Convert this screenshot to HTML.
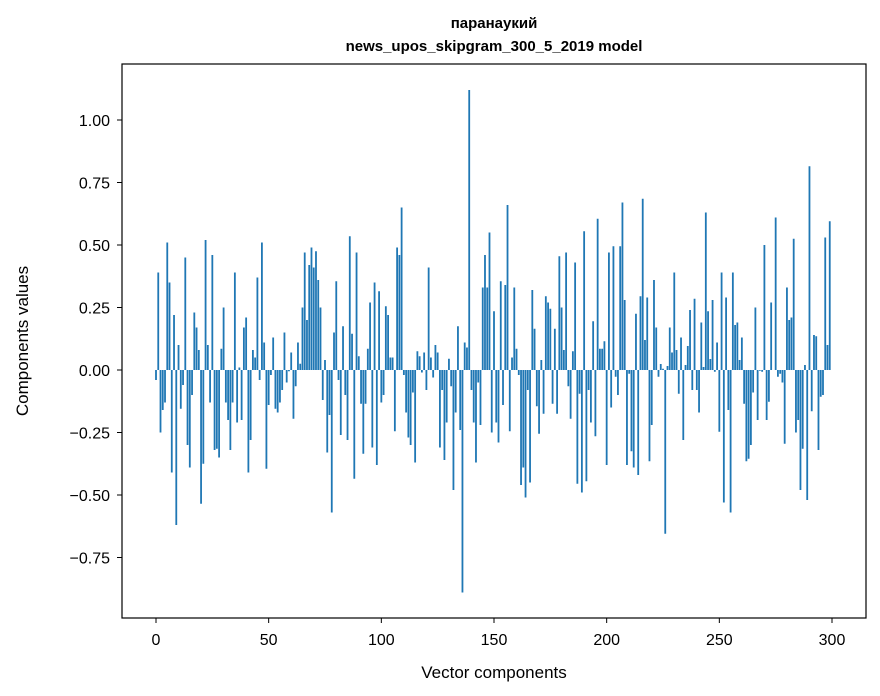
<!DOCTYPE html>
<html><head><meta charset="utf-8"><style>body{margin:0;background:#fff}svg{display:block;font-family:"Liberation Sans","DejaVu Sans",sans-serif}</style></head>
<body>
<svg id="chart" width="880" height="696">
<text x="494" y="28" text-anchor="middle" font-size="15" font-weight="bold">паранаукий</text>
<text x="494" y="51" text-anchor="middle" font-size="15" font-weight="bold">news_upos_skipgram_300_5_2019 model</text>
<g id="bars"></g>
<g id="axes"></g>
<rect x="122" y="64" width="744" height="554" fill="none" stroke="#000" stroke-width="1.2"/>
<text x="494" y="678" text-anchor="middle" font-size="17">Vector components</text>
<text transform="translate(28,341) rotate(-90)" text-anchor="middle" font-size="17">Components values</text>
</svg>
<script>
const values = [
-0.04,0.39,-0.25,-0.16,-0.13,0.51,0.35,-0.41,0.22,-0.62,
0.10,-0.155,-0.06,0.45,-0.30,-0.39,-0.10,0.23,0.17,0.08,
-0.535,-0.375,0.52,0.10,-0.13,0.46,-0.32,-0.315,-0.35,0.085,
0.25,-0.13,-0.20,-0.32,-0.13,0.39,-0.21,0.01,-0.20,0.17,
0.21,-0.41,-0.28,0.08,0.05,0.37,-0.04,0.51,0.11,-0.395,
-0.14,-0.02,0.13,-0.155,-0.17,-0.13,-0.08,0.15,-0.05,-0.005,
0.07,-0.195,-0.065,0.11,0.025,0.25,0.47,0.20,0.42,0.49,
0.41,0.475,0.36,0.25,-0.12,0.04,-0.33,-0.18,-0.57,0.15,
0.355,-0.04,-0.26,0.175,-0.10,-0.28,0.535,0.145,-0.435,0.47,
0.055,-0.135,-0.335,-0.135,0.085,0.27,-0.31,0.35,-0.38,0.315,
-0.13,-0.10,0.255,0.22,0.05,0.05,-0.245,0.49,0.46,0.65,
-0.02,-0.17,-0.27,-0.30,-0.09,-0.37,0.075,0.055,-0.01,0.07,
-0.08,0.41,0.05,-0.03,0.10,0.07,-0.31,-0.08,-0.36,-0.21,
0.045,-0.065,-0.48,-0.17,0.175,-0.24,-0.89,0.11,0.09,1.12,
-0.08,-0.21,-0.37,-0.05,-0.22,0.33,0.46,0.33,0.55,-0.25,
0.235,-0.21,-0.29,0.355,-0.14,0.34,0.66,-0.245,0.05,0.33,
0.085,-0.02,-0.46,-0.39,-0.51,-0.08,-0.45,0.32,0.165,-0.145,
-0.255,0.04,-0.175,0.295,0.27,0.245,-0.135,0.165,-0.175,0.455,
0.25,0.08,0.47,-0.065,-0.195,0.075,0.43,-0.455,-0.095,-0.49,
0.555,-0.445,-0.08,-0.21,0.195,-0.265,0.605,0.085,0.085,0.115,
-0.38,0.47,-0.15,0.495,-0.027,-0.10,0.495,0.67,0.28,-0.38,
-0.015,-0.325,-0.39,0.225,-0.42,0.295,0.685,0.12,0.29,-0.365,
-0.22,0.36,0.17,-0.027,0.024,0.005,-0.655,0.016,0.17,0.07,
0.39,0.08,-0.095,0.13,-0.28,0.02,0.096,0.24,-0.08,0.285,
-0.08,-0.17,0.19,0.012,0.63,0.235,0.044,0.28,-0.007,0.11,
-0.247,0.39,-0.53,0.29,-0.16,-0.57,0.39,0.18,0.19,0.04,
0.13,-0.135,-0.365,-0.355,-0.30,-0.09,0.25,-0.20,-0.003,-0.007,
0.50,-0.20,-0.127,0.27,0,0.61,-0.027,-0.015,-0.05,-0.295,
0.33,0.20,0.21,0.525,-0.25,-0.20,-0.48,-0.315,0.02,-0.52,
0.815,-0.165,0.14,0.135,-0.32,-0.107,-0.10,0.53,0.10,0.595
];
const xTicks = [0,50,100,150,200,250,300];
const yTicks = [-0.75,-0.5,-0.25,0,0.25,0.5,0.75,1.0];
const yTickLabels = ["\u22120.75","\u22120.50","\u22120.25","0.00","0.25","0.50","0.75","1.00"];
const NS="http://www.w3.org/2000/svg";
function xs(v){return 156+v*(676/300);}
function ys(v){return 370-v*250;}
const bars=document.getElementById('bars');
values.forEach((v,i)=>{
  const r=document.createElementNS(NS,'rect');
  const bw=0.8*(676/300);
  r.setAttribute('x',xs(i)-bw/2);
  r.setAttribute('y',Math.min(ys(v),ys(0)));
  r.setAttribute('width',bw);
  r.setAttribute('height',Math.abs(ys(v)-ys(0)));
  r.setAttribute('fill','#1f77b4');
  
  
  bars.appendChild(r);
});
const axes=document.getElementById('axes');
xTicks.forEach(t=>{
  const l=document.createElementNS(NS,'line');
  l.setAttribute('x1',xs(t));l.setAttribute('x2',xs(t));
  l.setAttribute('y1',618);l.setAttribute('y2',623);l.setAttribute('stroke','#000');
  
  
  axes.appendChild(l);
  const tx=document.createElementNS(NS,'text');
  tx.setAttribute('x',xs(t));tx.setAttribute('y',645);
  tx.setAttribute('text-anchor','middle');tx.setAttribute('font-size','16');
  tx.textContent=t;
  
  
  axes.appendChild(tx);
});
yTicks.forEach((t,i)=>{
  const l=document.createElementNS(NS,'line');
  l.setAttribute('x1',117);l.setAttribute('x2',122);
  l.setAttribute('y1',ys(t));l.setAttribute('y2',ys(t));l.setAttribute('stroke','#000');
  
  
  axes.appendChild(l);
  const tx=document.createElementNS(NS,'text');
  tx.setAttribute('x',110);tx.setAttribute('y',ys(t)+6);
  tx.setAttribute('text-anchor','end');tx.setAttribute('font-size','16');
  tx.textContent=yTickLabels[i];
  
  
  axes.appendChild(tx);
});
</script>
</body></html>
